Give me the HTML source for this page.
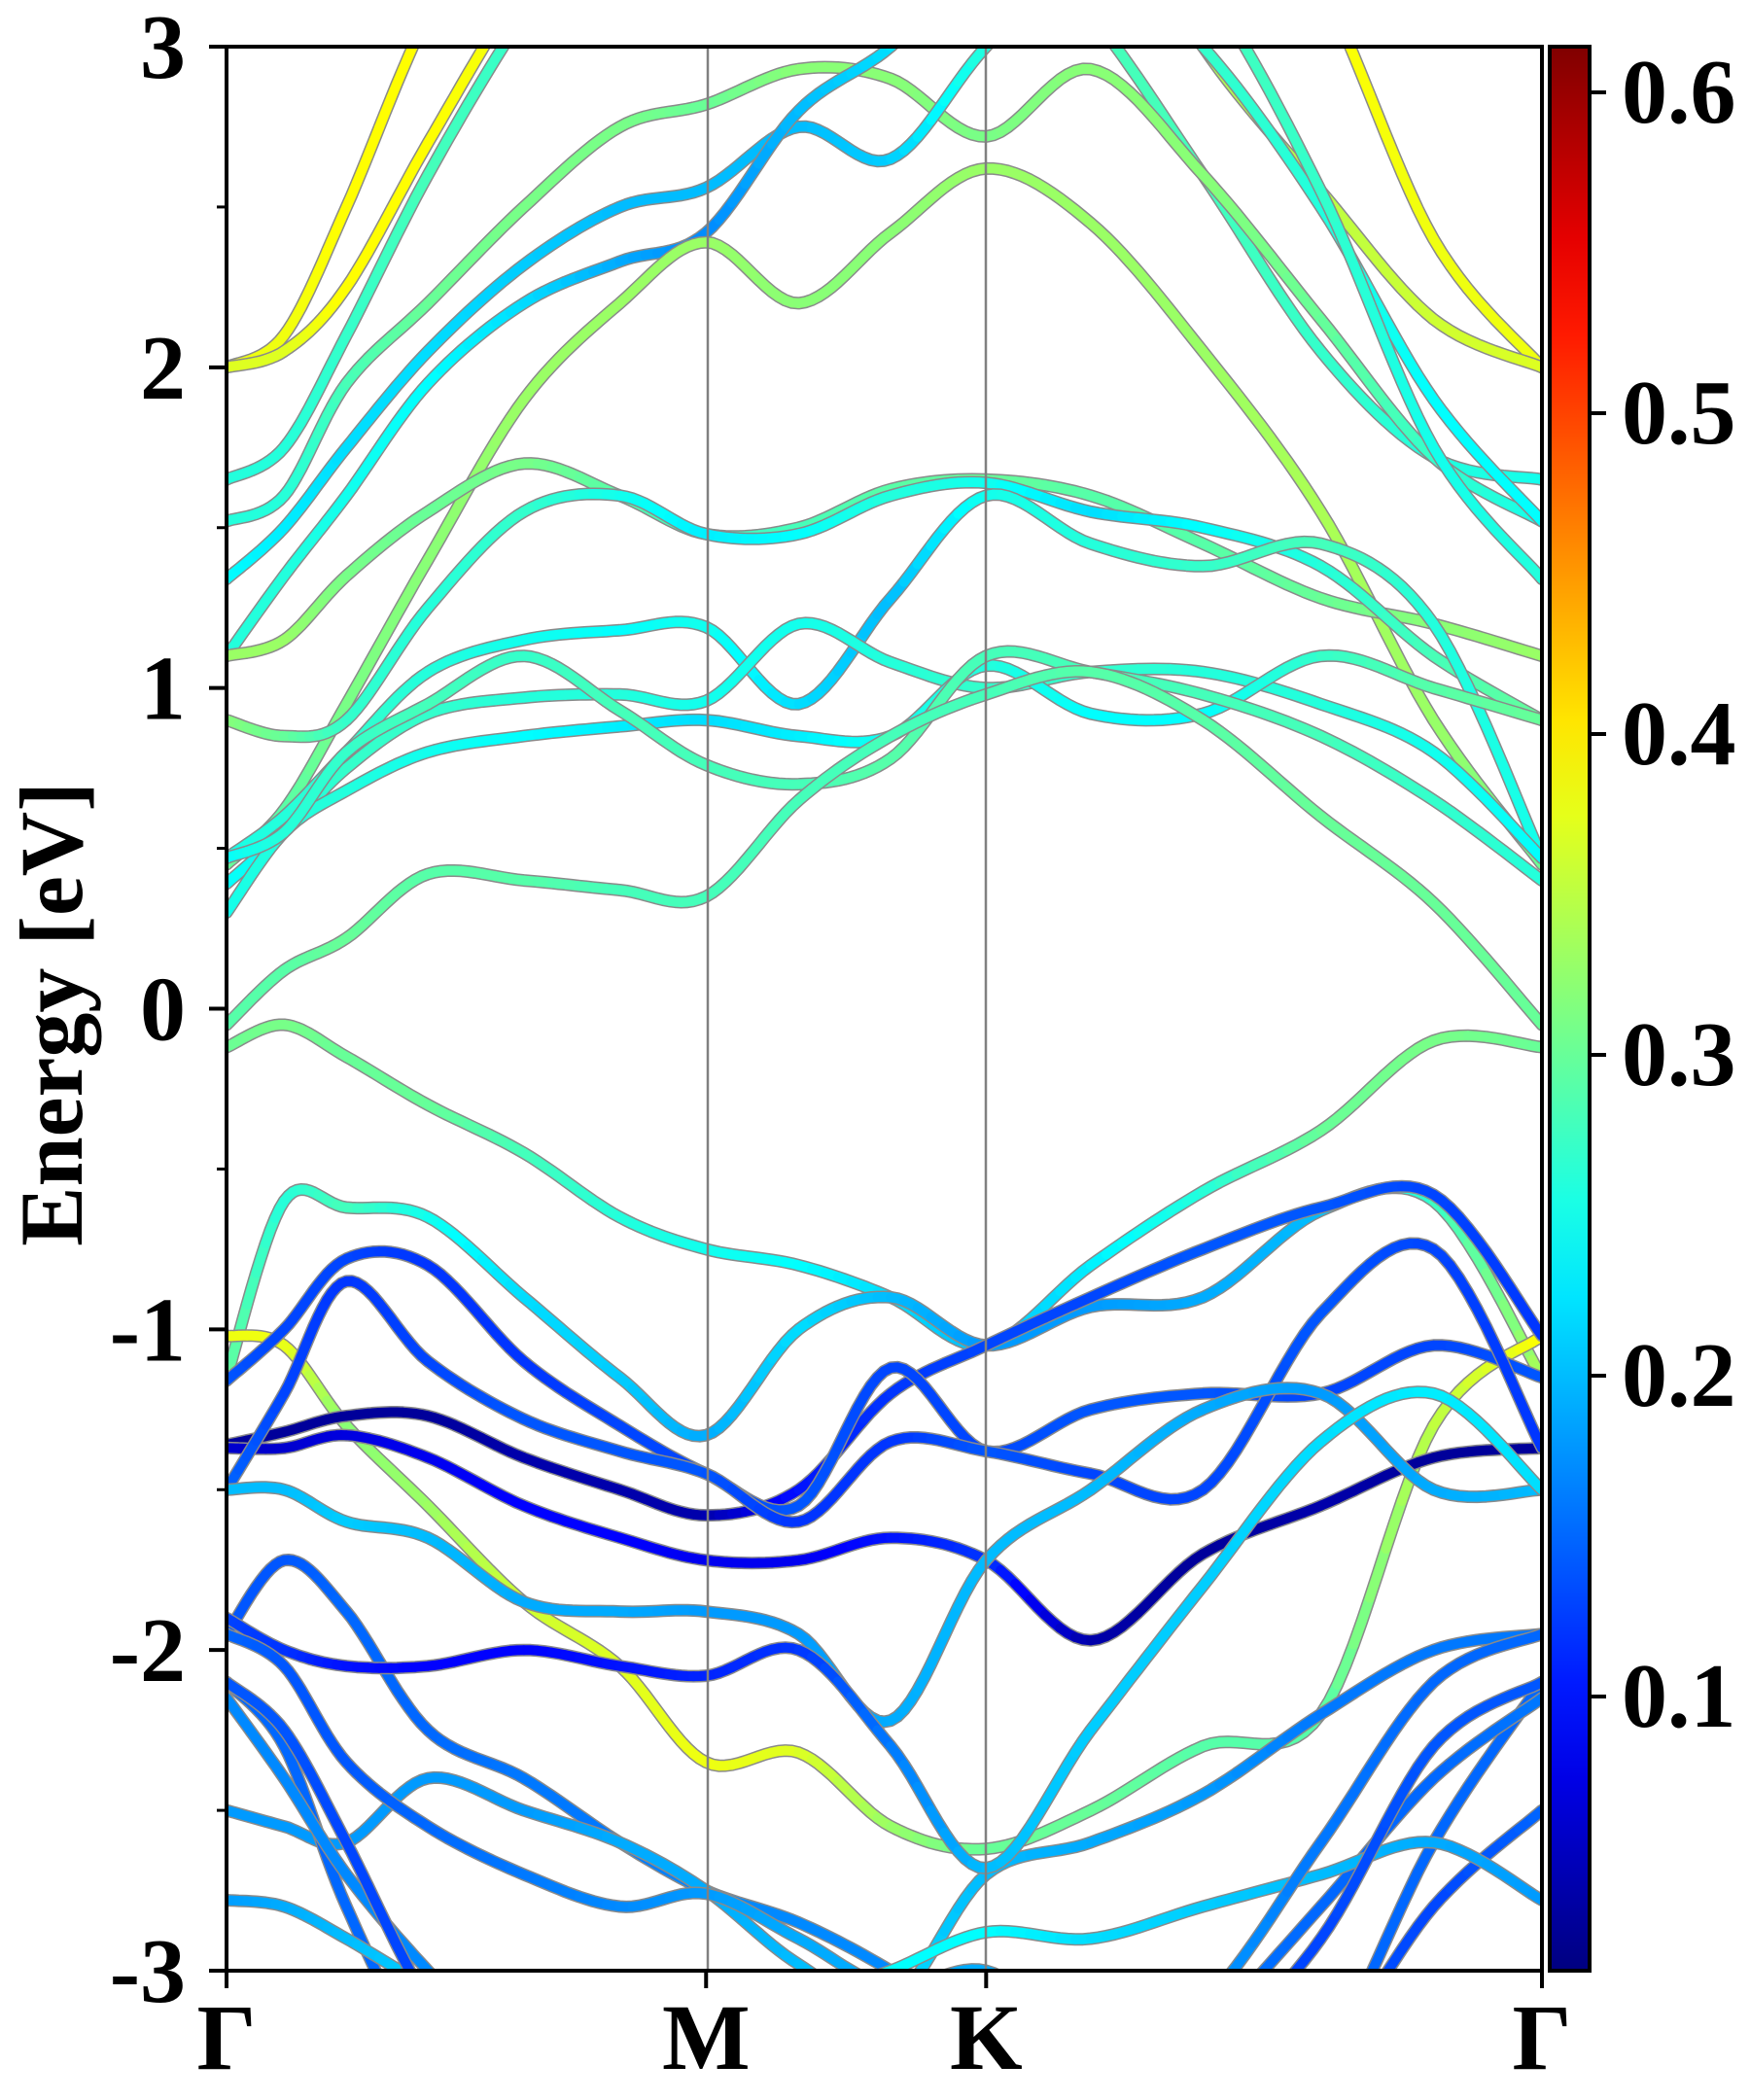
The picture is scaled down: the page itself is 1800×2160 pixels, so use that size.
<!DOCTYPE html>
<html><head><meta charset="utf-8"><style>
html,body{margin:0;padding:0;background:#fff;width:1800px;height:2160px;overflow:hidden;}
svg{display:block;}
text{font-family:"Liberation Serif",serif;font-weight:bold;fill:#000;}
</style></head><body>
<svg id="chart" width="1800" height="2160" viewBox="0 0 1800 2160" xmlns="http://www.w3.org/2000/svg">
<defs>
<clipPath id="plotclip"><rect x="233" y="48" width="1353" height="1979"/></clipPath>
<linearGradient id="jetgrad" x1="0" y1="1" x2="0" y2="0"></linearGradient>
</defs>
<g id="bands" clip-path="url(#plotclip)"></g>
<line x1="728" y1="48" x2="728" y2="2027" stroke="#808080" stroke-width="2.5"/>
<line x1="1014" y1="48" x2="1014" y2="2027" stroke="#808080" stroke-width="2.5"/>
<rect x="233" y="48" width="1353" height="1979" fill="none" stroke="#000" stroke-width="4"/>
<g id="yaxis"></g>
<g id="xaxis"></g>
<text transform="translate(84,1043) rotate(-90)" text-anchor="middle" font-size="92">Energy [eV]</text>
<rect x="1594" y="48" width="41" height="1979" fill="url(#jetgrad)" stroke="#000" stroke-width="4"/>
<g id="cbaxis"></g>
</svg>
<script>
// ---- data ----
const kNodes = [0, 0.12, 0.25, 0.42, 0.62, 0.82, 1, 1.193, 1.385, 1.584, 1.802, 2.036, 2.282, 2.517, 2.743];
const kLabels = ["Γ", "M", "K", "Γ"];
const kLabelPos = [0, 1, 1.584, 2.743];
const yTicks = [-3, -2, -1, 0, 1, 2, 3];
const cbTicks = [0.1, 0.2, 0.3, 0.4, 0.5, 0.6];
const cbRange = [0.0146, 0.614];
const bandEnergies = [
 [2.0,2.1,2.5,3.1,3.6,4,4,4,4,4,4,3.8,3.2,2.4,2.0],
 [2.0,2.05,2.25,2.7,3.2,3.6,4,4,4,4,3.6,3.0,2.55,2.15,2.0],
 [1.65,1.75,2.1,2.6,3.1,3.5,3.7,3.8,3.6,3.4,3.1,2.6,2.05,1.72,1.65],
 [1.52,1.6,1.95,2.2,2.5,2.75,2.82,2.93,2.9,2.72,2.93,2.6,2.15,1.72,1.52],
 [1.34,1.5,1.75,2.05,2.32,2.5,2.56,2.75,2.65,3.0,3.3,3.0,2.5,1.9,1.52],
 [1.1,1.35,1.6,1.95,2.2,2.33,2.42,2.8,3.0,3.3,3.5,3.2,2.55,1.75,1.34],
 [0.45,0.62,0.95,1.4,1.9,2.2,2.39,2.2,2.42,2.62,2.45,2.05,1.55,0.9,0.45],
 [1.1,1.15,1.35,1.55,1.7,1.6,1.48,1.5,1.62,1.65,1.6,1.45,1.28,1.2,1.1],
 [0.9,0.85,0.9,1.25,1.55,1.6,1.48,1.48,1.6,1.64,1.55,1.5,1.38,1.1,0.9],
 [0.47,0.6,0.8,1.05,1.15,1.18,1.19,0.95,1.28,1.6,1.45,1.38,1.45,1.2,0.47],
 [0.39,0.55,0.75,0.92,0.97,0.98,0.96,1.2,1.08,1.0,1.05,1.05,0.95,0.8,0.47],
 [0.3,0.55,0.68,0.8,0.85,0.88,0.9,0.85,0.85,1.07,0.92,0.92,1.1,1.0,0.9],
 [0.47,0.55,0.8,0.95,1.1,0.93,0.76,0.7,0.78,1.1,1.05,0.98,0.85,0.65,0.4],
 [-0.05,0.12,0.22,0.42,0.4,0.37,0.35,0.65,0.85,0.98,1.05,0.9,0.6,0.33,-0.05],
 [-0.12,-0.05,-0.15,-0.3,-0.45,-0.65,-0.75,-0.8,-0.9,-1.05,-0.8,-0.57,-0.38,-0.1,-0.12],
 [-1.15,-0.6,-0.62,-0.65,-0.9,-1.15,-1.33,-1.0,-0.9,-1.05,-0.93,-0.9,-0.63,-0.6,-1.15],
 [-1.02,-1.05,-1.3,-1.55,-1.85,-2.05,-2.35,-2.32,-2.55,-2.62,-2.5,-2.3,-2.2,-1.3,-1.02],
 [-1.36,-1.32,-1.27,-1.27,-1.4,-1.5,-1.58,-1.5,-1.2,-1.05,-0.9,-0.75,-0.62,-0.58,-1.02],
 [-1.37,-1.37,-1.33,-1.4,-1.55,-1.65,-1.72,-1.72,-1.65,-1.72,-1.97,-1.7,-1.55,-1.4,-1.37],
 [-1.16,-1.0,-0.78,-0.8,-1.1,-1.3,-1.45,-1.55,-1.12,-1.38,-1.25,-1.2,-1.2,-1.05,-1.15],
 [-1.5,-1.2,-0.85,-1.1,-1.28,-1.38,-1.45,-1.6,-1.35,-1.38,-1.45,-1.5,-0.95,-0.75,-1.37],
 [-1.95,-1.72,-1.88,-2.25,-2.4,-2.6,-2.75,-2.85,-3.0,-3.2,-3.5,-3.6,-3.3,-2.8,-2.5],
 [-2.5,-2.55,-2.6,-2.4,-2.5,-2.6,-2.75,-2.98,-3.1,-2.7,-2.6,-2.45,-2.2,-2.0,-1.95],
 [-1.5,-1.5,-1.6,-1.65,-1.85,-1.88,-1.88,-1.95,-2.22,-1.72,-1.5,-1.25,-1.2,-1.5,-1.5],
 [-2.1,-2.3,-2.8,-3.3,-3.6,-3.8,-3.8,-3.8,-3.8,-3.8,-3.8,-3.6,-3.3,-2.6,-2.1],
 [-1.9,-2.0,-2.05,-2.05,-2.0,-2.05,-2.08,-2.0,-2.3,-2.68,-2.25,-1.8,-1.35,-1.2,-1.5],
 [-2.15,-2.4,-2.7,-3.0,-3.3,-3.5,-3.5,-3.5,-3.5,-3.5,-3.5,-3.2,-2.8,-2.4,-2.15],
 [-2.78,-2.8,-2.9,-3.05,-3.2,-3.3,-3.3,-3.1,-3.0,-2.88,-2.9,-2.8,-2.7,-2.6,-2.78],
 [-1.95,-2.05,-2.35,-2.55,-2.7,-2.8,-2.76,-2.9,-3.05,-3.0,-3.2,-3.1,-2.6,-2.1,-1.95],
 [-2.1,-2.25,-2.6,-3.1,-3.5,-3.5,-3.5,-3.6,-3.6,-3.6,-3.6,-3.3,-2.9,-2.3,-2.1]
];
const bandWeights = [
 [.38,.38,.39,.39,.39,.39,.39,.39,.39,.39,.39,.39,.39,.38,.38],
 [.37,.37,.39,.39,.38,.37,.35,.35,.35,.35,.35,.34,.35,.36,.37],
 [.26,.26,.27,.28,.27,.27,.26,.26,.27,.28,.28,.28,.27,.26,.25],
 [.26,.26,.28,.30,.31,.31,.30,.32,.32,.31,.32,.32,.30,.27,.25],
 [.24,.23,.22,.22,.21,.20,.20,.20,.21,.26,.27,.27,.26,.24,.24],
 [.26,.26,.25,.24,.22,.19,.17,.2,.22,.26,.27,.28,.27,.25,.26],
 [.30,.29,.31,.32,.33,.33,.33,.32,.32,.33,.33,.33,.34,.33,.30],
 [.33,.33,.31,.30,.31,.29,.27,.28,.29,.30,.29,.29,.30,.32,.33],
 [.32,.30,.27,.26,.27,.25,.23,.24,.26,.25,.22,.24,.26,.28,.30],
 [.25,.26,.27,.26,.25,.24,.25,.22,.20,.25,.26,.27,.28,.26,.25],
 [.24,.25,.27,.27,.26,.26,.25,.25,.26,.27,.27,.26,.26,.25,.24],
 [.25,.26,.26,.25,.24,.23,.22,.23,.25,.26,.24,.24,.27,.29,.30],
 [.24,.26,.27,.28,.27,.28,.28,.28,.29,.28,.28,.28,.28,.27,.26],
 [.29,.29,.30,.29,.29,.28,.28,.28,.28,.28,.29,.29,.30,.30,.30],
 [.30,.31,.30,.30,.28,.26,.25,.24,.22,.20,.23,.26,.30,.31,.30],
 [.30,.26,.28,.25,.22,.21,.19,.22,.20,.18,.18,.19,.20,.27,.34],
 [.38,.38,.32,.33,.36,.37,.38,.37,.33,.30,.30,.29,.29,.35,.39],
 [.03,.03,.03,.03,.04,.04,.04,.10,.12,.13,.13,.14,.14,.13,.12],
 [.06,.06,.07,.08,.09,.09,.08,.08,.10,.12,.04,.03,.04,.03,.03],
 [.14,.13,.13,.12,.12,.13,.13,.14,.13,.13,.14,.14,.13,.13,.14],
 [.15,.13,.12,.13,.14,.14,.14,.12,.12,.14,.13,.13,.14,.13,.12],
 [.14,.14,.15,.15,.16,.16,.17,.17,.17,.17,.16,.16,.14,.13,.15],
 [.18,.18,.18,.18,.18,.19,.19,.2,.22,.20,.19,.18,.16,.16,.16],
 [.20,.20,.21,.20,.19,.19,.18,.18,.19,.20,.20,.19,.18,.19,.20],
 [.15,.15,.15,.15,.15,.15,.15,.15,.15,.15,.15,.15,.15,.15,.15],
 [.13,.12,.10,.09,.09,.10,.11,.12,.16,.20,.21,.21,.22,.23,.22],
 [.17,.17,.17,.17,.17,.17,.17,.17,.17,.17,.17,.16,.15,.15,.16],
 [.18,.19,.20,.21,.22,.22,.22,.23,.24,.24,.22,.21,.20,.19,.18],
 [.15,.14,.14,.15,.16,.17,.18,.19,.19,.19,.19,.18,.16,.15,.15],
 [.14,.14,.13,.13,.13,.13,.13,.13,.13,.13,.13,.13,.13,.14,.14]
];
// ---- scales ----
const X0 = 233, X1 = 1586, Y0 = 48, Y1 = 2027;
const kMax = kNodes[kNodes.length - 1];
function xScale(k) { return X0 + k / kMax * (X1 - X0); }
function yScale(e) { return Y0 + (3 - e) / 6 * (Y1 - Y0); }
function cbScale(v) { return 95 + (0.6 - v) * 3300; }
function clamp(v) { return Math.max(0, Math.min(1, v)); }
function jet(w) {
  const t = clamp((w - cbRange[0]) / (cbRange[1] - cbRange[0]));
  const r = clamp(1.5 - Math.abs(4 * t - 3)), g = clamp(1.5 - Math.abs(4 * t - 2)), b = clamp(1.5 - Math.abs(4 * t - 1));
  return "rgb(" + Math.round(r * 255) + "," + Math.round(g * 255) + "," + Math.round(b * 255) + ")";
}
const NS = "http://www.w3.org/2000/svg";
function mk(tag, attrs, parent) {
  const el = document.createElementNS(NS, tag);
  for (const a in attrs) el.setAttribute(a, attrs[a]);
  parent.appendChild(el);
  return el;
}
// gradient
const grad = document.getElementById("jetgrad");
for (let i = 0; i <= 20; i++) {
  const v = cbRange[0] + (cbRange[1] - cbRange[0]) * i / 20;
  mk("stop", { offset: (i / 20 * 100) + "%", "stop-color": jet(v) }, grad);
}
// Catmull-Rom sampling
function sampleBand(E, W) {
  const pts = [];
  const n = kNodes.length;
  const P = kNodes.map((k, i) => [xScale(k), yScale(E[i]), W[i]]);
  const steps = 14;
  for (let i = 0; i < n - 1; i++) {
    const p0 = P[Math.max(0, i - 1)], p1 = P[i], p2 = P[i + 1], p3 = P[Math.min(n - 1, i + 2)];
    for (let s = 0; s < steps; s++) {
      const t = s / steps, t2 = t * t, t3 = t2 * t;
      const f = (a, b, c, d) => 0.5 * ((2 * b) + (-a + c) * t + (2 * a - 5 * b + 4 * c - d) * t2 + (-a + 3 * b - 3 * c + d) * t3);
      pts.push([f(p0[0], p1[0], p2[0], p3[0]), f(p0[1], p1[1], p2[1], p3[1]), p1[2] + (p2[2] - p1[2]) * t]);
    }
  }
  pts.push([P[n - 1][0], P[n - 1][1], P[n - 1][2]]);
  return pts;
}
const bandsG = document.getElementById("bands");
bandEnergies.forEach((E, bi) => {
  const g = mk("g", {}, bandsG);
  
  
  const pts = sampleBand(E, bandWeights[bi]);
  const d = pts.map((p, i) => (i ? "L" : "M") + p[0].toFixed(1) + " " + p[1].toFixed(1)).join("");
  const outline = mk("path", { d: d, fill: "none", stroke: "#8a8a8a", "stroke-width": 13, "stroke-linejoin": "round", "stroke-linecap": "round" }, g);
  
  
  for (let i = 0; i < pts.length - 1; i += 2) {
    const j = Math.min(i + 2, pts.length - 1);
    const seg = mk("path", { d: "M" + pts[i][0].toFixed(1) + " " + pts[i][1].toFixed(1) + "L" + pts[i + 1][0].toFixed(1) + " " + pts[i + 1][1].toFixed(1) + "L" + pts[j][0].toFixed(1) + " " + pts[j][1].toFixed(1), fill: "none", stroke: jet(pts[i + 1][2]), "stroke-width": 10, "stroke-linecap": "round" }, g);
    
    
  }
});
// y axis
const yG = document.getElementById("yaxis");
yTicks.forEach(v => {
  const y = yScale(v);
  const t = mk("line", { x1: X0 - 18, x2: X0, y1: y, y2: y, stroke: "#000", "stroke-width": 4 }, yG);
  
  
  const lb = mk("text", { x: 191, y: y + 32, "text-anchor": "end", "font-size": 94 }, yG);
  lb.textContent = String(v);
  
  
});
for (let v = -2.5; v < 3; v += 1) {
  const y = yScale(v);
  const t = mk("line", { x1: X0 - 10, x2: X0, y1: y, y2: y, stroke: "#000", "stroke-width": 3 }, yG);
  
  
}
// x axis
const xG = document.getElementById("xaxis");
kLabelPos.forEach((k, i) => {
  const x = xScale(k);
  const t = mk("line", { x1: x, x2: x, y1: Y1, y2: Y1 + 18, stroke: "#000", "stroke-width": 4 }, xG);
  
  
  const lb = mk("text", { x: x, y: 2128, "text-anchor": "middle", "font-size": 96 }, xG);
  lb.textContent = kLabels[i];
  
  
});
// colorbar axis
const cG = document.getElementById("cbaxis");
cbTicks.forEach(v => {
  const y = cbScale(v);
  const t = mk("line", { x1: 1635, x2: 1652, y1: y, y2: y, stroke: "#000", "stroke-width": 4 }, cG);
  
  
  const lb = mk("text", { x: 1668, y: y + 31, "font-size": 94 }, cG);
  lb.textContent = v.toFixed(1);
  
  
});
</script>
</body></html>
